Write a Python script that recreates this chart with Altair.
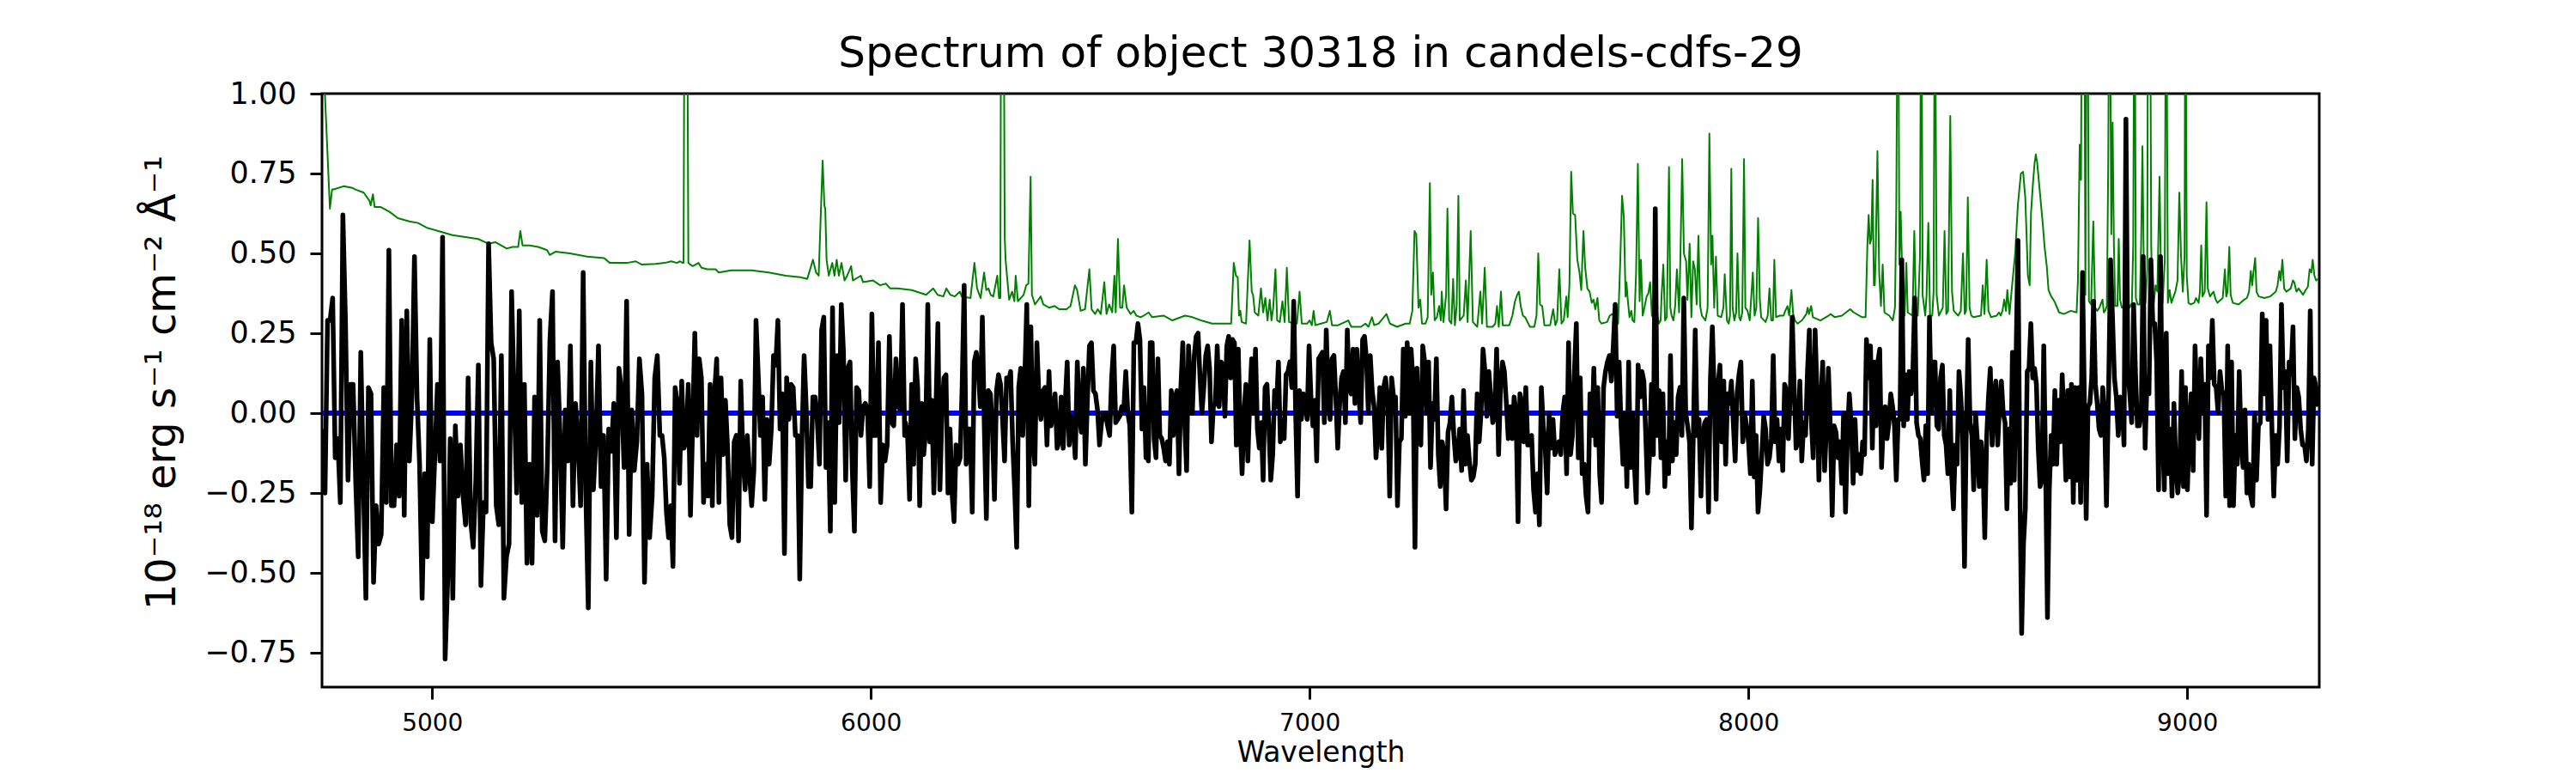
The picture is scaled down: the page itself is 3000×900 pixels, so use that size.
import numpy as np
import pandas as pd
import altair as alt

# ---------------- black: object flux (1e-18 erg/s/cm2/A), per wavelength segment ----------------
flux_4750_5519 = [-0.05, -0.25, 0.29, 0.29, 0.36, -0.14, -0.08, -0.28, 0.62, 0.29,
                  -0.21, 0.09, 0.09, -0.21, -0.45, 0.19, -0.21, -0.58, 0.08, 0.06,
                  -0.53, -0.29, -0.41, -0.38, 0.08, -0.28, 0.51, -0.29, -0.29, -0.10,
                  -0.26, 0.29, -0.32, 0.32, -0.15, 0.05, 0.49, 0.05, -0.16, -0.58,
                  -0.19, -0.45, 0.23, -0.34, -0.13, 0.09, -0.15, 0.55, -0.77, -0.52,
                  -0.08, -0.58, -0.04, -0.26, -0.10, -0.26, -0.35, 0.11, -0.34, -0.42,
                  -0.21, 0.15, -0.54, -0.28, -0.31, 0.53, 0.22, 0.17, -0.29, -0.35,
                  0.18, -0.58, -0.45, -0.41, 0.38, 0.05, -0.25, 0.32, -0.28, 0.09,
                  -0.47, -0.16, -0.47, 0.05, -0.32, 0.29, -0.37, -0.40, -0.16, 0.23,
                  0.38, -0.40, 0.16, -0.08, -0.42, 0.01, -0.15, 0.21, -0.29, 0.03,
                  -0.09, -0.29, 0.44, -0.24, -0.61, 0.16, -0.24, -0.08, 0.21, -0.23,
                  -0.07, -0.52, -0.05, -0.12, 0.03, -0.39, 0.14, 0.07, -0.17, 0.35,
                  -0.38, 0.01, -0.18, -0.09, 0.17, 0.06, -0.53, -0.16, -0.39, -0.26,
                  0.11, 0.18, -0.07]
flux_5524_6077 = [-0.07, -0.14, -0.31, -0.39, -0.29, -0.48, 0.08, 0.03, -0.22, 0.10,
                  -0.11, -0.09, 0.09, -0.32, -0.04, 0.25, -0.07, 0.17, 0.11, -0.28,
                  -0.16, -0.26, 0.09, -0.29, 0.06, 0.17, -0.28, 0.11, -0.13, 0.04,
                  -0.11, -0.35, -0.39, -0.09, -0.07, -0.40, 0.10, -0.13, -0.24, -0.07,
                  -0.19, -0.29, -0.18, 0.29, 0.12, -0.07, 0.05, -0.27, -0.02, -0.16,
                  -0.05, 0.18, 0.15, 0.29, -0.05, 0.06, -0.44, 0.11, -0.02, 0.09,
                  0.08, -0.07, -0.07, -0.52, -0.08, 0.18, 0.01, -0.23, -0.23, 0.05,
                  0.05, -0.02, -0.16, 0.26, 0.30, -0.17, -0.03, -0.37, 0.33, -0.28,
                  0.18, -0.03, 0.34, 0.19, -0.21, 0.14, 0.16, -0.17, -0.37, 0.08,
                  0.07, -0.07, 0.02, 0.03, 0.01, -0.23, 0.31, -0.07, -0.07, 0.22,
                  -0.28, -0.10, -0.15, -0.10, 0.24, -0.03, -0.04, 0.17, 0.02, 0.01,
                  0.34, -0.07]
flux_6079_6627 = [-0.03, -0.07, -0.27, 0.09, -0.16, 0.17, 0.08, -0.29, 0.03, -0.13,
                  -0.05, 0.34, -0.09, 0.04, -0.25, 0.00, 0.28, -0.24, 0.00, 0.11,
                  0.12, -0.25, -0.05, -0.25, -0.34, -0.10, -0.16, -0.14, 0.08, 0.40,
                  -0.16, -0.05, -0.05, -0.31, 0.16, 0.19, 0.13, 0.02, 0.30, -0.05,
                  -0.33, 0.07, 0.06, -0.05, -0.27, 0.07, 0.12, 0.09, -0.02, -0.15,
                  0.11, 0.10, 0.13, -0.09, -0.24, -0.42, 0.08, 0.14, -0.07, 0.11,
                  0.34, -0.29, 0.27, -0.08, -0.16, 0.22, 0.05, -0.02, 0.07, 0.08,
                  -0.10, 0.13, -0.04, 0.00, 0.06, -0.11, -0.09, 0.05, -0.11, 0.03,
                  0.16, -0.10, -0.01, -0.04, -0.14, 0.16, 0.00, -0.06, 0.14, -0.16,
                  0.04, 0.21, 0.22, 0.07, 0.06, 0.01, -0.10, -0.03, 0.00, 0.00,
                  -0.04, -0.07, 0.11, 0.21, -0.03, -0.02, -0.01, 0.02, 0.01, 0.13,
                  0.00, -0.04, -0.31, 0.22, 0.22, 0.28, 0.23, -0.05, 0.08, -0.14]
flux_6628_7173 = [-0.09, -0.15, 0.22, 0.22, -0.08, -0.14, 0.17, -0.07, -0.08, -0.11,
                  -0.15, -0.09, -0.16, 0.07, -0.07, 0.05, 0.07, -0.19, 0.08, 0.22,
                  -0.03, -0.18, 0.21, 0.08, 0.00, 0.18, 0.24, 0.25, 0.11, 0.00,
                  0.08, 0.18, 0.21, 0.14, -0.09, 0.02, 0.03, 0.21, 0.02, 0.16,
                  0.15, -0.01, 0.21, 0.24, 0.11, 0.23, 0.22, -0.10, 0.20, -0.04,
                  -0.19, 0.00, 0.09, -0.15, 0.04, 0.17, 0.00, 0.20, -0.05, -0.11,
                  -0.03, -0.21, 0.08, 0.09, -0.04, -0.21, -0.13, 0.07, 0.02, 0.16,
                  -0.09, -0.02, -0.08, 0.12, 0.13, 0.16, 0.08, 0.35, 0.00, -0.26,
                  0.07, -0.02, 0.06, 0.04, -0.02, 0.21, 0.05, -0.04, 0.04, -0.15,
                  0.17, 0.18, 0.19, -0.03, 0.26, 0.06, -0.02, 0.17, 0.18, 0.05,
                  -0.11, 0.03, 0.11, 0.13, -0.03, 0.26, 0.08, 0.06, 0.20, 0.03,
                  0.20, 0.06, -0.03, 0.23, 0.24, 0.17, 0.00, 0.18, 0.07, 0.02,
                  -0.14, -0.05, 0.08, -0.11, 0.08, 0.11]
flux_7178_7723 = [0.03, -0.26, 0.11, 0.05, 0.05, -0.29, -0.09, -0.08, 0.20, -0.01,
                  0.22, 0.00, 0.20, 0.10, -0.42, 0.14, -0.09, -0.10, 0.21, 0.16,
                  0.00, 0.16, -0.17, 0.03, -0.02, 0.17, -0.13, -0.23, -0.09, -0.13,
                  -0.30, -0.06, -0.03, 0.05, -0.07, -0.15, -0.13, -0.05, -0.18, 0.07,
                  -0.16, -0.07, -0.15, -0.21, -0.20, -0.16, 0.06, -0.09, 0.00, 0.20,
                  0.13, -0.01, 0.13, 0.05, -0.03, -0.01, 0.20, -0.13, 0.08, 0.16,
                  0.13, 0.03, -0.08, 0.02, -0.08, 0.05, 0.00, -0.34, 0.06, 0.03,
                  -0.09, 0.08, -0.10, -0.10, -0.07, -0.24, -0.31, -0.19, -0.35, 0.08,
                  -0.04, -0.11, -0.25, 0.00, -0.11, -0.02, -0.13, -0.11, -0.09, -0.13,
                  0.00, 0.05, -0.19, 0.22, -0.13, -0.07, 0.13, 0.28, -0.14, 0.11,
                  -0.19, -0.16, -0.26, -0.31, 0.06, -0.07, 0.14, -0.10, 0.08, -0.19,
                  -0.28, 0.08, 0.13, 0.16, 0.18, 0.10, 0.21, 0.34, -0.01, 0.16,
                  -0.04, -0.16, 0.00, -0.23]
flux_7727_8269 = [0.16, -0.17, 0.00, -0.16, -0.28, 0.15, 0.05, 0.13, 0.10, -0.07,
                  -0.25, -0.13, 0.09, -0.13, 0.64, -0.07, 0.07, -0.14, 0.06, -0.23,
                  -0.09, -0.19, 0.18, -0.15, -0.03, -0.13, 0.05, 0.08, -0.07, 0.36,
                  0.00, -0.04, -0.09, -0.36, -0.07, 0.26, -0.07, -0.02, -0.26, -0.07,
                  -0.03, -0.02, -0.31, 0.11, 0.27, 0.06, -0.27, 0.09, 0.15, -0.09,
                  0.10, -0.16, 0.06, 0.03, 0.10, -0.03, -0.15, 0.06, 0.12, 0.16,
                  -0.09, 0.00, -0.04, -0.09, -0.19, 0.10, -0.20, -0.07, -0.31, -0.24,
                  -0.13, -0.01, -0.05, -0.16, -0.14, -0.08, 0.18, -0.09, -0.02, -0.15,
                  -0.05, -0.18, 0.09, 0.07, -0.08, 0.07, 0.30, 0.08, -0.11, -0.09,
                  0.10, -0.15, -0.03, -0.07, 0.13, 0.26, -0.02, -0.14, 0.26, 0.07,
                  -0.21, 0.03, 0.16, -0.18, -0.04, 0.14, -0.04, -0.32, -0.04, -0.06,
                  -0.14, -0.09, -0.22, 0.00, -0.31, -0.07, 0.06, -0.03, -0.22, -0.02,
                  -0.18, -0.13, -0.19, -0.09, -0.13, 0.23]
flux_8274_8816 = [0.11, 0.21, -0.11, 0.16, -0.04, 0.16, 0.20, -0.17, -0.03, 0.02,
                  -0.08, -0.03, 0.06, 0.02, -0.04, -0.21, -0.02, -0.02, 0.48, -0.04,
                  0.12, -0.02, 0.13, 0.06, 0.13, 0.36, -0.03, -0.07, -0.08, -0.15,
                  -0.21, -0.04, -0.19, 0.30, 0.00, 0.16, 0.16, -0.04, -0.05, 0.11,
                  0.15, -0.07, -0.10, -0.19, 0.07, -0.19, -0.30, -0.10, -0.16, 0.13,
                  0.05, -0.07, -0.48, -0.04, 0.23, -0.03, -0.07, -0.24, 0.00, -0.09,
                  -0.23, -0.09, -0.16, -0.39, -0.08, 0.05, 0.14, -0.10, 0.05, 0.10,
                  -0.10, 0.02, 0.10, 0.00, -0.03, -0.30, -0.05, -0.22, 0.19, -0.21,
                  0.18, 0.54, -0.20, -0.69, -0.41, -0.30, 0.13, 0.14, 0.28, 0.11,
                  0.14, 0.09, -0.11, -0.23, -0.21, 0.21, -0.18, -0.64, -0.24, -0.07,
                  -0.16, 0.07, -0.16, 0.04, -0.09, 0.12, -0.04, -0.21, 0.07, -0.20,
                  0.09, -0.28, 0.08, -0.21, 0.08, -0.28, 0.44, 0.05, -0.33, 0.02,
                  0.03, 0.11, 0.35, 0.09, 0.03, -0.05, -0.07, 0.08, -0.02, -0.29]
flux_8821_9298 = [0.08, 0.48, 0.30, 0.11, 0.05, -0.07, 0.05, 0.04, -0.10, 0.92,
                  0.13, 0.06, -0.03, 0.34, 0.12, -0.04, -0.04, 0.00, 0.49, -0.11,
                  0.11, 0.06, 0.48, 0.28, 0.28, 0.16, -0.24, 0.49, -0.05, -0.24,
                  0.25, -0.19, -0.05, -0.26, 0.03, -0.16, -0.25, -0.18, 0.13, -0.23,
                  0.08, -0.24, -0.05, 0.06, -0.18, 0.21, 0.01, -0.08, 0.17, 0.00,
                  0.09, -0.32, 0.21, 0.11, 0.29, 0.09, 0.08, 0.00, 0.13, 0.07,
                  0.06, -0.26, 0.21, -0.29, 0.16, -0.29, -0.07, -0.16, 0.13, -0.09,
                  -0.17, 0.01, -0.25, -0.16, -0.26, -0.29, 0.00, -0.21, -0.04, -0.03,
                  0.31, 0.06, 0.29, -0.02, 0.21, -0.04, -0.26, -0.07, -0.16, -0.04,
                  0.34, 0.08, 0.13, -0.15, 0.16, 0.12, 0.27, -0.08, 0.08, 0.05,
                  -0.05, -0.10, -0.10, -0.15, -0.05, 0.32, -0.16, 0.11, 0.08, 0.02]

flux_segments = [
    (4750, 5519, flux_4750_5519),
    (5524, 6077, flux_5524_6077),
    (6079, 6627, flux_6079_6627),
    (6628, 7173, flux_6628_7173),
    (7178, 7723, flux_7178_7723),
    (7727, 8269, flux_7727_8269),
    (8274, 8816, flux_8274_8816),
    (8821, 9298, flux_8821_9298),
]

# ---------------- green: sky / noise spectrum ----------------
sky_wave_1 = [4749, 4754, 4767, 4772, 4776, 4798, 4818, 4825, 4844, 4857,
              4860, 4865, 4869, 4883, 4903, 4922, 4948, 4968, 4988, 5014,
              5046, 5079, 5105, 5129, 5144, 5170, 5183, 5196, 5201, 5206,
              5222, 5242, 5262, 5268, 5281, 5314, 5353, 5392, 5405, 5444,
              5464, 5477, 5510]
sky_flux_1 = [1.20, 1.05, 0.64, 0.70, 0.70, 0.71, 0.705, 0.70, 0.69, 0.665,
              0.65, 0.685, 0.645, 0.645, 0.63, 0.61, 0.60, 0.595, 0.58, 0.57,
              0.557, 0.55, 0.545, 0.53, 0.535, 0.515, 0.52, 0.52, 0.57, 0.525,
              0.525, 0.52, 0.51, 0.495, 0.505, 0.50, 0.49, 0.485, 0.47, 0.47,
              0.475, 0.465, 0.467]
sky_wave_2 = [5530, 5545, 5558, 5565, 5571, 5573, 5578, 5584, 5588, 5594,
              5607, 5614, 5627, 5646, 5653, 5682, 5728, 5767, 5806, 5839,
              5855, 5868, 5875, 5881, 5890, 5894, 5896, 5899, 5904, 5912,
              5917, 5922, 5927, 5933, 5940, 5946, 5955, 5959, 5977, 5982,
              6005, 6021, 6034, 6044]
sky_flux_2 = [0.47, 0.475, 0.47, 0.475, 0.47, 0.47, 2.5, 0.47, 0.465, 0.46,
              0.47, 0.455, 0.45, 0.45, 0.44, 0.447, 0.447, 0.44, 0.43, 0.425,
              0.42, 0.48, 0.44, 0.43, 0.79, 0.65, 0.64, 0.48, 0.43, 0.47,
              0.43, 0.48, 0.43, 0.47, 0.415, 0.43, 0.46, 0.415, 0.43, 0.41,
              0.415, 0.40, 0.405, 0.39]
sky_wave_3 = [6061, 6093, 6126, 6142, 6152, 6165, 6172, 6181, 6191, 6203,
              6207, 6227, 6236, 6242, 6250, 6258, 6263, 6268, 6273, 6279,
              6288, 6292, 6295, 6298, 6302, 6305, 6307, 6315, 6322, 6327,
              6330, 6335, 6348, 6354, 6359, 6364, 6367, 6374, 6387, 6393,
              6406, 6419, 6429, 6446, 6455, 6465, 6470, 6478, 6488, 6498,
              6503, 6511, 6517, 6524, 6532, 6537, 6543, 6550, 6555, 6558,
              6563, 6568, 6573, 6577, 6583, 6592, 6599, 6605, 6615]
sky_flux_3 = [0.39, 0.385, 0.37, 0.39, 0.37, 0.365, 0.39, 0.37, 0.365, 0.38,
              0.365, 0.36, 0.47, 0.39, 0.36, 0.44, 0.385, 0.39, 0.37, 0.365,
              0.43, 0.36, 0.36, 2.2, 1.6, 0.55, 0.48, 0.355, 0.38, 0.35,
              0.43, 0.35, 0.37, 0.40, 0.405, 0.74, 0.37, 0.34, 0.365, 0.34,
              0.33, 0.335, 0.325, 0.325, 0.335, 0.40, 0.385, 0.32, 0.325, 0.45,
              0.325, 0.31, 0.325, 0.31, 0.41, 0.31, 0.34, 0.315, 0.43, 0.315,
              0.545, 0.33, 0.33, 0.40, 0.33, 0.31, 0.32, 0.305, 0.30]
sky_wave_4 = [6622, 6633, 6641, 6667, 6687, 6716, 6733, 6752, 6778, 6798,
              6821, 6827, 6832, 6836, 6839, 6842, 6845, 6855, 6863, 6868,
              6871, 6875, 6883, 6889, 6894, 6899, 6904, 6909, 6913, 6917,
              6922, 6926, 6932, 6938, 6943, 6948, 6953, 6964, 6971, 6977,
              6982, 6994, 7000, 7005, 7009, 7013, 7026, 7039, 7046, 7051,
              7065, 7088, 7095, 7117, 7127, 7134, 7142, 7147, 7157]
sky_flux_4 = [0.305, 0.315, 0.30, 0.305, 0.29, 0.305, 0.30, 0.29, 0.28, 0.28,
              0.28, 0.47, 0.43, 0.425, 0.305, 0.32, 0.285, 0.28, 0.54, 0.38,
              0.37, 0.315, 0.305, 0.39, 0.315, 0.36, 0.29, 0.355, 0.29, 0.33,
              0.45, 0.29, 0.285, 0.35, 0.285, 0.455, 0.285, 0.28, 0.28, 0.38,
              0.28, 0.28, 0.29, 0.275, 0.32, 0.275, 0.28, 0.285, 0.32, 0.275,
              0.275, 0.29, 0.27, 0.27, 0.28, 0.27, 0.30, 0.275, 0.28]
sky_wave_5 = [7175, 7183, 7199, 7219, 7228, 7234, 7239, 7243, 7248, 7252,
              7256, 7264, 7269, 7274, 7277, 7281, 7285, 7290, 7295, 7299,
              7301, 7305, 7311, 7314, 7318, 7323, 7327, 7331, 7335, 7339,
              7342, 7351, 7356, 7360, 7367, 7372, 7382, 7389, 7393, 7399,
              7404, 7417, 7423, 7427, 7431, 7436, 7440, 7455, 7462, 7468,
              7473, 7477, 7481, 7486, 7491, 7502, 7512, 7517, 7521, 7525,
              7530, 7535, 7548, 7555, 7560, 7564, 7569, 7574, 7579, 7585,
              7588, 7592, 7596, 7600, 7605, 7610, 7615, 7619, 7624, 7628,
              7633, 7638, 7643, 7647, 7651, 7656, 7660, 7665, 7678, 7684,
              7690, 7698, 7703, 7708, 7712, 7716, 7720]
sky_flux_5 = [0.31, 0.28, 0.27, 0.28, 0.28, 0.32, 0.57, 0.56, 0.33, 0.355,
              0.28, 0.28, 0.30, 0.72, 0.37, 0.44, 0.29, 0.30, 0.335, 0.29,
              0.38, 0.285, 0.37, 0.64, 0.29, 0.28, 0.42, 0.275, 0.335, 0.68,
              0.29, 0.305, 0.415, 0.285, 0.57, 0.285, 0.27, 0.38, 0.28, 0.455,
              0.27, 0.27, 0.28, 0.335, 0.27, 0.38, 0.275, 0.275, 0.305, 0.35,
              0.37, 0.38, 0.335, 0.305, 0.30, 0.27, 0.27, 0.305, 0.50, 0.34,
              0.335, 0.275, 0.275, 0.325, 0.275, 0.29, 0.45, 0.28, 0.29, 0.365,
              0.30, 0.40, 0.755, 0.625, 0.62, 0.48, 0.44, 0.385, 0.57, 0.455,
              0.39, 0.38, 0.345, 0.355, 0.325, 0.36, 0.29, 0.28, 0.285, 0.305,
              0.31, 0.29, 0.28, 0.48, 0.68, 0.615, 0.365]
sky_wave_6 = [7722, 7725, 7729, 7733, 7736, 7740, 7744, 7748, 7752, 7755,
              7759, 7763, 7768, 7772, 7776, 7780, 7787, 7791, 7796, 7800,
              7802, 7806, 7810, 7814, 7819, 7822, 7825, 7829, 7833, 7837,
              7842, 7845, 7849, 7853, 7858, 7861, 7866, 7870, 7874, 7878,
              7882, 7886, 7890, 7894, 7902, 7907, 7911, 7915, 7918, 7922,
              7926, 7930, 7938, 7943, 7946, 7951, 7955, 7958, 7961, 7964,
              7968, 7972, 7975, 7979, 7982, 7986, 7990, 7993, 7998, 8003,
              8007, 8010, 8014, 8018, 8022, 8026, 8029, 8039, 8044, 8048,
              8052, 8056, 8059, 8063, 8071, 8080, 8084, 8089, 8093, 8098,
              8102, 8106, 8112, 8122, 8132, 8135, 8138, 8143, 8147, 8164,
              8183, 8187, 8197, 8213, 8232, 8240, 8259, 8267]
sky_flux_6 = [0.41, 0.355, 0.30, 0.32, 0.29, 0.285, 0.44, 0.78, 0.35, 0.48,
              0.305, 0.33, 0.365, 0.375, 0.41, 0.305, 0.29, 0.32, 0.28, 0.29,
              0.365, 0.465, 0.29, 0.30, 0.77, 0.33, 0.305, 0.29, 0.335, 0.45,
              0.315, 0.49, 0.795, 0.50, 0.475, 0.355, 0.53, 0.30, 0.475, 0.45,
              0.34, 0.555, 0.335, 0.305, 0.29, 0.33, 0.875, 0.465, 0.555, 0.33,
              0.49, 0.305, 0.30, 0.33, 0.435, 0.29, 0.28, 0.305, 0.765, 0.33,
              0.29, 0.315, 0.50, 0.30, 0.29, 0.315, 0.795, 0.33, 0.32, 0.29,
              0.375, 0.44, 0.305, 0.33, 0.61, 0.355, 0.30, 0.285, 0.305, 0.39,
              0.29, 0.29, 0.48, 0.30, 0.305, 0.305, 0.32, 0.335, 0.305, 0.385,
              0.31, 0.29, 0.28, 0.29, 0.31, 0.33, 0.31, 0.335, 0.30, 0.29,
              0.305, 0.31, 0.30, 0.305, 0.325, 0.315, 0.30, 0.30]
sky_wave_7 = [8271, 8274, 8277, 8280, 8283, 8286, 8288, 8290, 8294, 8298,
              8302, 8306, 8310, 8321, 8329, 8334, 8337, 8341, 8344, 8347,
              8350, 8356, 8360, 8363, 8374, 8378, 8382, 8386, 8391, 8394,
              8397, 8403, 8406, 8410, 8414, 8419, 8422, 8425, 8429, 8434,
              8443, 8447, 8451, 8455, 8460, 8464, 8468, 8478, 8484, 8489,
              8493, 8496, 8500, 8504, 8508, 8513, 8530, 8534, 8538, 8543,
              8547, 8553, 8566, 8571, 8575, 8579, 8583, 8587, 8590, 8595,
              8601, 8608, 8614, 8621, 8626, 8631, 8637, 8641, 8644, 8648,
              8652, 8655, 8658, 8662, 8667, 8671, 8675, 8680, 8684, 8690,
              8695, 8699, 8708, 8719, 8735, 8748, 8751, 8755, 8758, 8761,
              8765, 8768, 8772, 8776, 8781, 8786, 8790, 8795, 8800]
sky_flux_7 = [0.52, 0.62, 0.53, 0.545, 0.73, 0.40, 0.40, 0.49, 0.82, 0.44,
              0.335, 0.465, 0.315, 0.305, 0.29, 0.33, 0.65, 1.6, 0.465, 0.63,
              0.465, 0.305, 0.47, 0.315, 0.305, 0.57, 0.31, 0.305, 0.49, 1.6,
              0.37, 0.305, 0.37, 0.595, 0.305, 0.305, 0.38, 1.5, 0.37, 0.305,
              0.33, 0.57, 0.31, 0.32, 0.93, 0.38, 0.32, 0.305, 0.32, 0.50,
              0.31, 0.32, 0.675, 0.33, 0.305, 0.30, 0.305, 0.40, 0.31, 0.48,
              0.32, 0.30, 0.305, 0.315, 0.305, 0.32, 0.355, 0.32, 0.385, 0.31,
              0.40, 0.50, 0.65, 0.75, 0.755, 0.675, 0.43, 0.40, 0.625, 0.71,
              0.78, 0.81, 0.785, 0.725, 0.65, 0.59, 0.52, 0.46, 0.385, 0.365,
              0.355, 0.345, 0.315, 0.31, 0.32, 0.315, 0.415, 0.84, 0.73, 1.8,
              1.6, 0.37, 1.8, 0.35, 0.34, 0.60, 0.33, 0.32, 0.33]
sky_wave_8 = [8807, 8810, 8813, 8817, 8820, 8823, 8827, 8830, 8833, 8836,
              8841, 8844, 8847, 8851, 8862, 8866, 8869, 8874, 8877, 8880,
              8883, 8887, 8892, 8895, 8898, 8902, 8905, 8909, 8911, 8915,
              8918, 8921, 8924, 8928, 8932, 8937, 8941, 8944, 8949, 8952,
              8956, 8960, 8964, 8969, 8973, 8978, 8982, 8986, 8990, 8994,
              8996, 8999, 9003, 9008, 9016, 9020, 9026, 9029, 9032, 9035,
              9040, 9044, 9047, 9052, 9060, 9065, 9069, 9081, 9086, 9089,
              9092, 9096, 9099, 9104, 9117, 9130, 9136, 9141, 9145, 9148,
              9151, 9155, 9158, 9163, 9176, 9189, 9202, 9206, 9210, 9213,
              9217, 9221, 9226, 9236, 9241, 9244, 9249, 9254, 9264, 9270,
              9275, 9279, 9283, 9286, 9290, 9294, 9298]
sky_flux_8 = [0.355, 0.315, 0.32, 0.335, 0.775, 1.6, 0.56, 0.91, 0.525, 0.335,
              0.335, 0.545, 0.355, 0.33, 0.34, 0.345, 0.33, 0.345, 0.525, 1.6,
              0.36, 0.34, 0.34, 0.525, 0.835, 0.345, 0.345, 0.45, 1.6, 1.6,
              0.525, 0.345, 0.345, 0.40, 0.38, 0.74, 0.35, 0.345, 0.48, 1.6,
              0.345, 0.385, 0.345, 0.365, 0.38, 0.415, 0.69, 0.49, 0.38, 0.49,
              1.6, 0.43, 0.345, 0.34, 0.345, 0.36, 0.345, 0.38, 0.525, 0.365,
              0.38, 0.66, 0.39, 0.365, 0.38, 0.355, 0.345, 0.36, 0.45, 0.365,
              0.38, 0.52, 0.37, 0.345, 0.34, 0.355, 0.36, 0.38, 0.445, 0.40,
              0.44, 0.485, 0.38, 0.365, 0.36, 0.365, 0.38, 0.40, 0.445, 0.415,
              0.48, 0.39, 0.38, 0.39, 0.415, 0.41, 0.38, 0.39, 0.37, 0.385,
              0.395, 0.45, 0.44, 0.48, 0.43, 0.415, 0.42]

sky_segments = [(sky_wave_1, sky_flux_1), (sky_wave_2, sky_flux_2),
                (sky_wave_3, sky_flux_3), (sky_wave_4, sky_flux_4),
                (sky_wave_5, sky_flux_5), (sky_wave_6, sky_flux_6),
                (sky_wave_7, sky_flux_7), (sky_wave_8, sky_flux_8)]

# ---------------- blue: model continuum ----------------
model_wave = [4750, 9300]
model_flux = [0.0, 0.0]

x_ticks = [5000, 6000, 7000, 8000, 9000]
y_ticks = [-0.75, -0.5, -0.25, 0.0, 0.25, 0.5, 0.75, 1.0]
x_domain = [4749, 9301]
y_domain = [-0.858, 1.0]

title_text = "Spectrum of object 30318 in candels-cdfs-29"
x_title = "Wavelength"
y_title = "10⁻¹⁸ erg s⁻¹ cm⁻² Å⁻¹"

# ---------------- build tables ----------------
obj_wave = np.concatenate([np.linspace(a, b, len(v)) for a, b, v in flux_segments])
obj_flux = np.concatenate([np.asarray(v, dtype=float) for _, _, v in flux_segments])
df_obj = pd.DataFrame({"wave": obj_wave, "flux": obj_flux})

sky_w, sky_f = [], []
for w, f in sky_segments:
    assert len(w) == len(f)
    sky_w += w
    sky_f += f
df_sky = pd.DataFrame({"wave": sky_w, "flux": sky_f})
df_model = pd.DataFrame({"wave": model_wave, "flux": model_flux})

FONT = "DejaVu Sans"

x_enc = alt.X("wave:Q",
              scale=alt.Scale(domain=x_domain, nice=False, zero=False),
              axis=alt.Axis(values=x_ticks, format="d", title=x_title,
                            labelFontSize=28, titleFontSize=33,
                            tickSize=14, labelPadding=14, titlePadding=4))
y_enc = alt.Y("flux:Q",
              scale=alt.Scale(domain=y_domain, nice=False, zero=False),
              axis=alt.Axis(values=y_ticks, format=".2f", title=y_title,
                            labelFontSize=35, titleFontSize=48,
                            tickSize=14, labelPadding=16, titlePadding=24,
                            titleY=336))

model = alt.Chart(df_model).mark_line(color="#0000ff", strokeWidth=6, clip=True).encode(
    x=x_enc, y=y_enc)
sky = alt.Chart(df_sky).mark_line(color="#008000", strokeWidth=2, clip=True,
                                  strokeJoin="round").encode(x=x_enc, y=y_enc)
obj = alt.Chart(df_obj).mark_line(color="#000000", strokeWidth=5.5, clip=True,
                                  strokeJoin="round").encode(x=x_enc, y=y_enc)

chart = alt.layer(model, sky, obj).properties(
    width=2326,
    height=691,
    title=alt.TitleParams(text=title_text, fontSize=50, font=FONT,
                          fontWeight="normal", color="black",
                          anchor="middle", frame="group", offset=4),
    padding={"left": 367, "top": 101, "right": 280, "bottom": 95},
    autosize=alt.AutoSizeParams(type="none"),
).configure(font=FONT).configure_view(
    stroke="black", strokeWidth=3
).configure_axis(
    grid=False, domain=False, tickColor="black", tickWidth=3,
    labelColor="black", titleColor="black", labelFont=FONT, titleFont=FONT,
    titleFontWeight="normal"
)

chart.save("out.html", embed_options={"renderer": "svg", "actions": False})
